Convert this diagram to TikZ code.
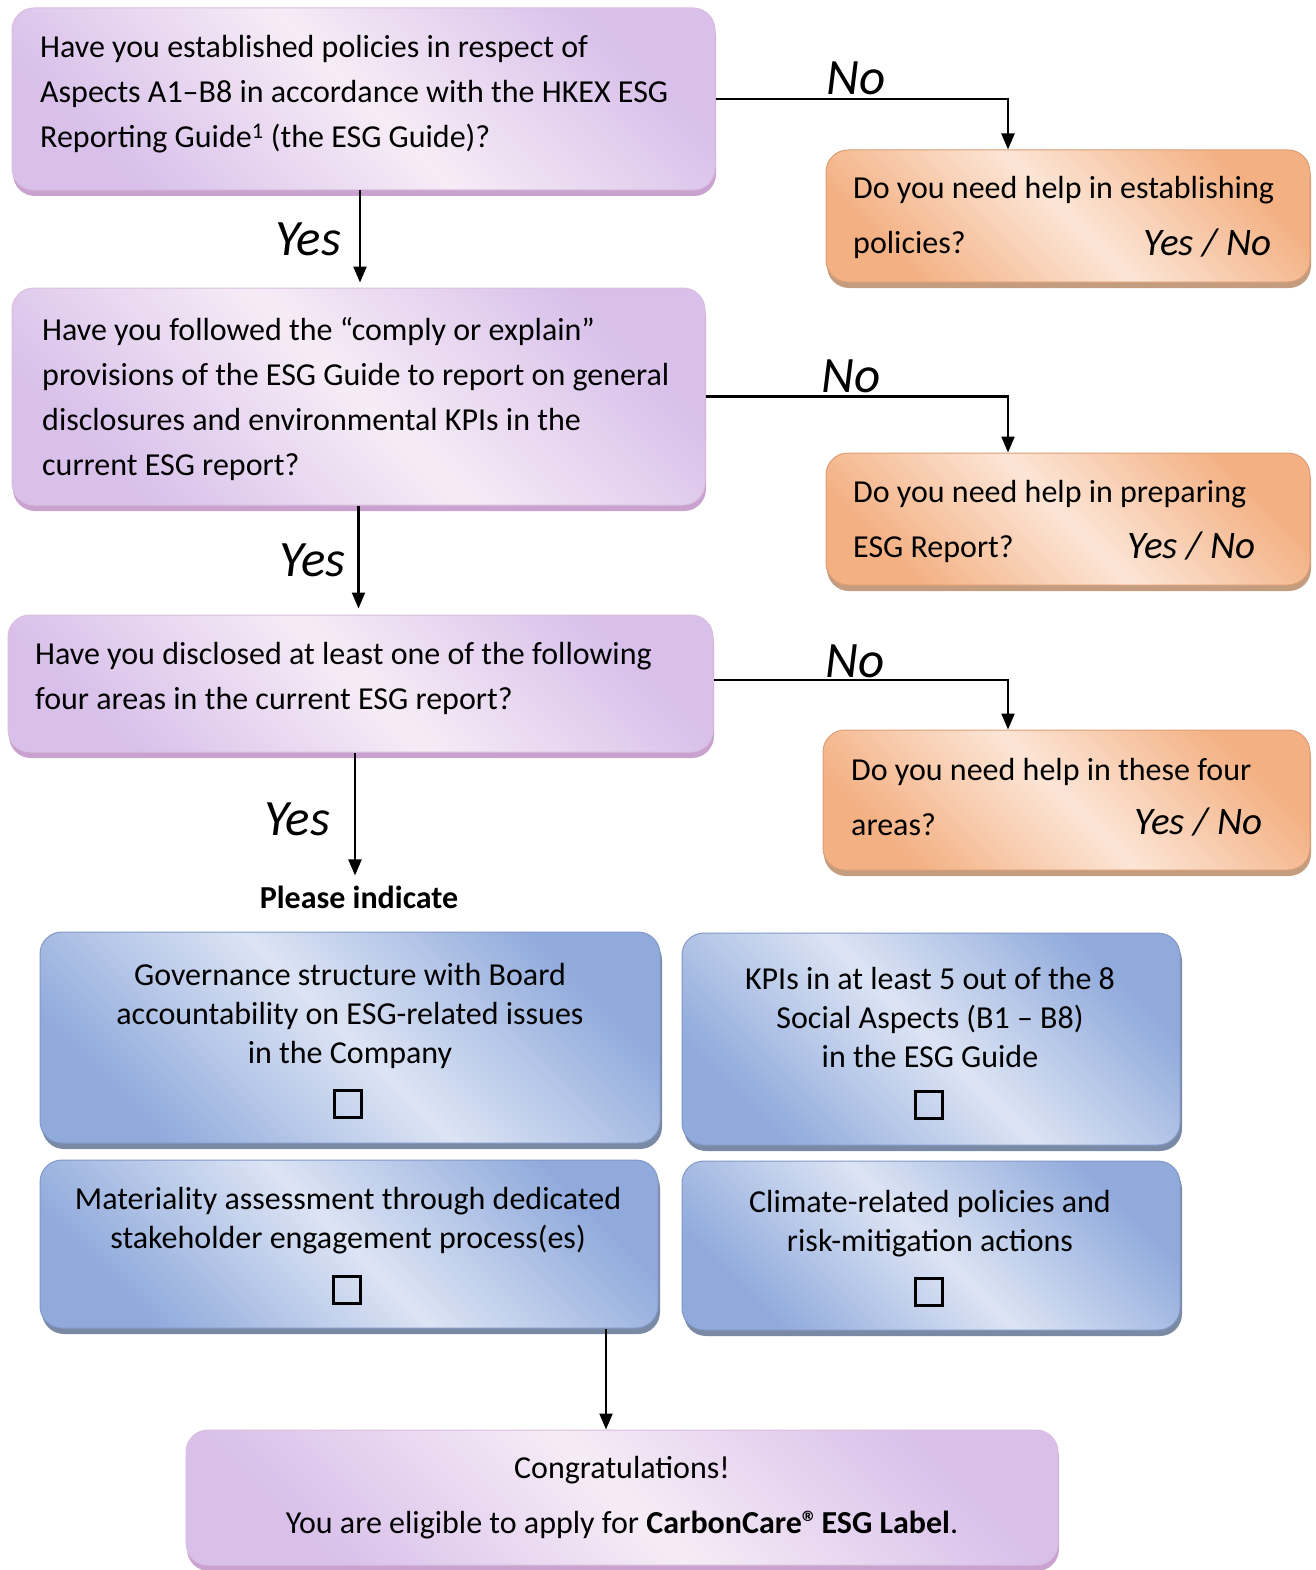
\documentclass[tikz,border=0pt]{standalone}
\usepackage{fontspec}
\setmainfont{Carlito}
\usetikzlibrary{shadows,arrows.meta}
\definecolor{purpD}{RGB}{216,192,234}
\definecolor{purpL}{RGB}{246,236,246}
\definecolor{purpS}{RGB}{202,162,208}
\definecolor{oraD}{RGB}{243,176,130}
\definecolor{oraL}{RGB}{252,229,214}
\definecolor{oraS}{RGB}{196,156,128}
\definecolor{bluD}{RGB}{144,170,220}
\definecolor{bluL}{RGB}{220,228,244}
\definecolor{bluS}{RGB}{122,138,165}
\begin{document}
\begin{tikzpicture}[x=1pt,y=-1pt,
  box/.style={rectangle, rounded corners=22pt, inner sep=0pt, line width=1pt},
  pbox/.style={box, left color=purpD, right color=purpD, middle color=purpL, shading angle=-45, draw=purpS!70,
    drop shadow={shadow xshift=1pt, shadow yshift=-6pt, fill=purpS, opacity=1}},
  obox/.style={box, left color=oraD, right color=oraD, middle color=oraL, shading angle=-45, draw=oraD!90!black,
    drop shadow={shadow xshift=1pt, shadow yshift=-6pt, fill=oraS, opacity=1}},
  bbox/.style={box, left color=bluD, right color=bluD, middle color=bluL, shading angle=-45, draw=bluD!90!black,
    drop shadow={shadow xshift=2pt, shadow yshift=-6pt, fill=bluS, opacity=1}},
  qtxt/.style={inner sep=0pt, anchor=west, align=left, font=\fontsize{32}{45}\selectfont},
  otxt/.style={inner sep=0pt, anchor=west, align=left, font=\fontsize{32}{55}\selectfont},
  btxt/.style={inner sep=0pt, align=center, font=\fontsize{32}{39}\selectfont},
  yn/.style={inner sep=0pt, font=\fontsize{51}{55}\selectfont\itshape},
  ynsmall/.style={inner sep=0pt, anchor=east, font=\fontsize{39}{42}\selectfont\itshape},
  chk/.style={draw, line width=2.6pt, minimum width=27pt, minimum height=27pt, inner sep=0pt},
  arr/.style={line width=2.2pt, -{Triangle[length=16pt,width=13pt]}}
]
\useasboundingbox (0,0) rectangle (1315,1570);

% question boxes
\node[pbox, minimum width=703pt, minimum height=182pt] (q1) at (363.5,99) {};
\node[qtxt] (t1) at (40,94) {Have you established policies in respect of\\Aspects A1–B8 in accordance with the HKEX ESG\\Reporting Guide\textsuperscript{1} (the ESG Guide)?};

\node[pbox, minimum width=693pt, minimum height=217pt] (q2) at (358.5,396.5) {};
\node[qtxt] (t2) at (42,399.5) {Have you followed the “comply or explain”\\provisions of the ESG Guide to report on general\\disclosures and environmental KPIs in the\\current ESG report?};

\node[pbox, minimum width=705pt, minimum height=137pt] (q3) at (360.5,683.5) {};
\node[qtxt] (t3) at (35,678.5) {Have you disclosed at least one of the following\\four areas in the current ESG report?};

% orange boxes
\node[obox, minimum width=484pt, minimum height=132pt] (o1) at (1068,216) {};
\node[otxt] (to1) at (853,217.5) {Do you need help in establishing\\policies?};
\node[ynsmall] (y1) at (1272,243) {Yes / No};

\node[obox, minimum width=484pt, minimum height=132pt] (o2) at (1068,519) {};
\node[otxt] (to2) at (853,521) {Do you need help in preparing\\ESG Report?};
\node[ynsmall] (y2) at (1256,546) {Yes / No};

\node[obox, minimum width=487pt, minimum height=140pt] (o3) at (1066.5,800) {};
\node[otxt] (to3) at (851,797) {Do you need help in these four\\areas?};
\node[ynsmall] (y3) at (1263,822) {Yes / No};

% please indicate
\node[inner sep=0pt, font=\fontsize{32}{36}\selectfont\bfseries] (pi) at (359,897) {Please indicate};

% blue boxes
\node[bbox, minimum width=620pt, minimum height=211pt] (b1) at (350,1037.5) {};
\node[btxt] (tb1) at (350,1016) {Governance structure with Board\\accountability on ESG-related issues\\in the Company};
\node[chk] (c1) at (348,1104) {};

\node[bbox, minimum width=498pt, minimum height=212pt] (b2) at (931,1039) {};
\node[btxt] (tb2) at (930,1017) {KPIs in at least 5 out of the 8\\Social Aspects (B1 – B8)\\in the ESG Guide};
\node[chk] (c2) at (929,1105) {};

\node[bbox, minimum width=618pt, minimum height=168pt] (b3) at (349,1244) {};
\node[btxt] (tb3) at (348,1220.5) {Materiality assessment through dedicated\\stakeholder engagement process(es)};
\node[chk] (c3) at (347,1290) {};

\node[bbox, minimum width=498pt, minimum height=169pt] (b4) at (931,1245.5) {};
\node[btxt] (tb4) at (930,1223.5) {Climate-related policies and\\risk-mitigation actions};
\node[chk] (c4) at (929,1292) {};

% final box
\node[pbox, minimum width=872pt, minimum height=135pt] (f) at (622,1497.5) {};
\node[inner sep=0pt, align=center, font=\fontsize{32}{55}\selectfont] (tf) at (622,1498) {Congratulations!\\You are eligible to apply for \textbf{CarbonCare®\kern-0.12em{} ESG Label}.};

% connectors
\draw[arr, shorten >=5pt] ([xshift=-3.5pt]q1.south) -- ([xshift=-3.5pt]q1.south |- q2.north) node[pos=0.5, yn, left=18pt] (l1) {Yes};
\draw[arr] (q1.east) -| ([xshift=-60pt]o1.north) node[pos=0.24, yn, above=3pt] (l2) {No};

\draw[arr, shorten >=6pt] (q2.south) -- (q2.south |- q3.north) node[pos=0.5, yn, left=12pt] (l3) {Yes};
\draw[arr] (q2.east) -| ([xshift=-60pt]o2.north) node[pos=0.24, yn, above=3pt] (l4) {No};

\draw[arr, shorten >=10pt] ([xshift=-5.5pt]q3.south) -- ([xshift=-5.5pt]q3.south |- pi.north) node[pos=0.5, yn, left=24pt] (l5) {Yes};
\draw[arr] ([yshift=3.5pt]q3.east) -| ([xshift=-58.5pt]o3.north) node[pos=0.24, yn, above=1pt] (l6) {No};

\draw[arr] ([xshift=257pt]b3.south) -- ([xshift=257pt]b3.south |- f.north);
\end{tikzpicture}
\end{document}
